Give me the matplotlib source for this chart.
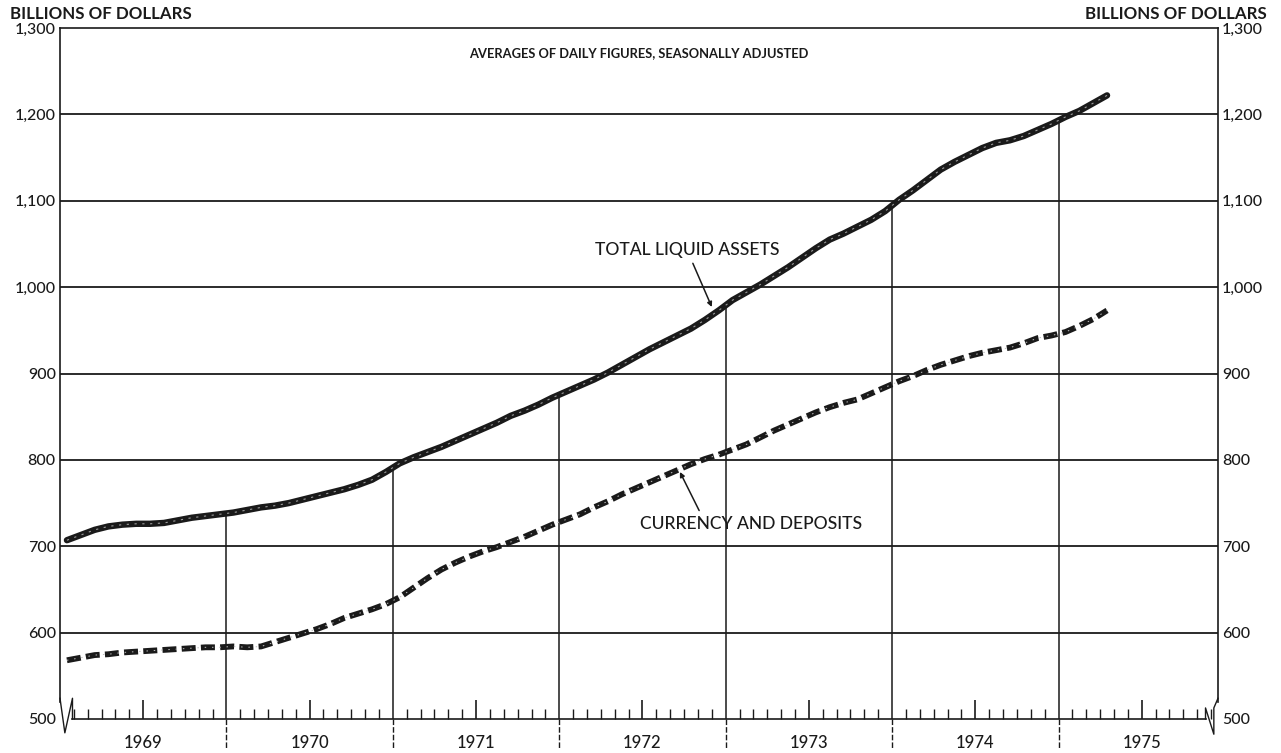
import numpy as np
import matplotlib.pyplot as plt
from matplotlib.transforms import blended_transform_factory

# monthly averages, billions of dollars, Jan 1969 - Apr 1975
years = ['1969', '1970', '1971', '1972', '1973', '1974', '1975']

total_liquid = [
    707, 713, 719, 723, 725, 726, 726, 727, 730, 733, 735, 737,
    739, 742, 745, 747, 750, 754, 758, 762, 766, 771, 777, 786,
    796, 803, 809, 815, 822, 829, 836, 843, 851, 857, 864, 872,
    879, 886, 893, 901, 910, 919, 928, 936, 944, 952, 962, 973,
    985, 994, 1003, 1013, 1023, 1034, 1045, 1055, 1062, 1070, 1078, 1088,
    1101, 1112, 1124, 1136, 1145, 1153, 1161, 1167, 1170, 1175, 1182, 1189,
    1197, 1204, 1213, 1222,
]
currency_deposits = [
    568, 571, 574, 575, 577, 578, 579, 580, 581, 582, 583, 583,
    584, 583, 584, 589, 594, 599, 604, 610, 617, 622, 627, 633,
    641, 652, 663, 673, 681, 688, 694, 699, 705, 711, 718, 725,
    731, 737, 745, 752, 760, 767, 774, 781, 788, 795, 801, 806,
    812, 818, 826, 834, 841, 848, 855, 861, 866, 870, 877, 884,
    891, 897, 904, 910, 915, 920, 924, 927, 930, 935, 941, 944,
    948, 955, 963, 973,
]

plt.rcParams['font.family'] = ['Lato', 'DejaVu Sans']
ink = '#1a1a1a'

months = np.arange(len(total_liquid)) + 0.5
n_months = 12 * len(years)

fig = plt.figure(figsize=(12.81, 7.53), dpi=100)
ax = fig.add_axes([60 / 1281, 34 / 753, 1158 / 1281, 691 / 753])
ax.set_xlim(0, 83.5)
ax.set_ylim(500, 1300)

# horizontal rules
for v in range(600, 1300, 100):
    ax.axhline(v, color=ink, lw=1.3, zorder=1)

# year dividers run from the base up to the total curve
trans = blended_transform_factory(ax.transData, ax.transAxes)
for k in range(1, len(years)):
    xb = 12 * k
    top = np.interp(xb, months, total_liquid)
    ax.plot([xb, xb], [500, top], color=ink, lw=1.1, zorder=1)
    ax.plot([xb, xb], [0, -0.042], color=ink, lw=1.0, ls=(0, (4, 1.5)),
            transform=trans, clip_on=False)

# the two series
ax.plot(months, total_liquid, color=ink, lw=4.6, solid_capstyle='round', zorder=3)
ax.plot(months, total_liquid, color='#9a9a9a', lw=0.8, ls=(0, (2, 5)), zorder=4)
ax.plot(months, currency_deposits, color=ink, lw=4.2, ls=(0, (2.4, 0.9)), zorder=3)
ax.plot(months, currency_deposits, color='#bdbdbd', lw=0.7, ls=(0, (1.5, 6)), zorder=4)

# month ticks, taller at mid-year
minor = [m for m in range(1, n_months) if m % 12 != 0 and m % 12 != 6]
mid = [m for m in range(6, n_months, 12)]
ax.set_xticks(mid)
ax.set_xticks(minor, minor=True)
ax.tick_params(axis='x', which='major', direction='in', length=14, width=1.2,
               labelbottom=False, color=ink)
ax.tick_params(axis='x', which='minor', direction='in', length=7, width=1.0, color=ink)

yt = list(range(500, 1301, 100))
ax.set_yticks(yt)
ax.set_yticklabels([f'{v:,}' for v in yt])
ax.tick_params(axis='y', length=0, labelsize=11.5, labelcolor=ink, pad=3,
               labelright=True)
for lab in ax.get_yticklabels() + ax.get_yticklabels(which='major'):
    lab.set_fontweight('medium')

for s in ax.spines.values():
    s.set_color(ink)
    s.set_linewidth(1.2)
ax.spines['left'].set_bounds(520, 1300)
ax.spines['right'].set_bounds(520, 1300)
ax.spines['bottom'].set_bounds(0.9, 82.6)

for k, yr in enumerate(years):
    ax.text(12 * k + 6, -0.035, yr, transform=trans, ha='center', va='center',
            fontsize=12, fontweight='medium', color=ink)

# axis break marks
ax.plot([0, 0.35, 0.9, 0.9], [0.03, -0.02, 0.03, 0.0], transform=trans,
        color=ink, lw=1.0, clip_on=False)
ax.plot([82.6, 82.6, 83.2, 83.2, 83.5], [0.0, 0.016, -0.022, 0.016, 0.03],
        transform=trans, color=ink, lw=1.0, clip_on=False)

fig.text(10 / 1281, 1 - 14 / 753, 'BILLIONS OF DOLLARS', ha='left', va='center',
         fontsize=12.2, fontweight='bold', color=ink)
fig.text(1085 / 1281, 1 - 14 / 753, 'BILLIONS OF DOLLARS', ha='left', va='center',
         fontsize=12.2, fontweight='bold', color=ink)
ax.text(0.5, 0.964, 'AVERAGES OF DAILY FIGURES, SEASONALLY ADJUSTED',
        transform=ax.transAxes, ha='center', va='center', fontsize=9.3,
        fontweight='bold', color=ink)

ax.annotate('TOTAL LIQUID ASSETS', xy=(47.0, 977), xytext=(45.2, 1043),
            ha='center', va='center', fontsize=12.6, fontweight='medium', color=ink,
            arrowprops=dict(arrowstyle='-|>', color=ink, lw=1.1,
                            mutation_scale=7, relpos=(0.52, 0.0),
                            shrinkA=2, shrinkB=0))
ax.annotate('CURRENCY AND DEPOSITS', xy=(44.7, 786), xytext=(49.8, 726),
            ha='center', va='center', fontsize=12.6, fontweight='medium', color=ink,
            arrowprops=dict(arrowstyle='-|>', color=ink, lw=1.1,
                            mutation_scale=7, relpos=(0.28, 1.0),
                            shrinkA=2, shrinkB=0))

fig.savefig('out.png', dpi=100)
